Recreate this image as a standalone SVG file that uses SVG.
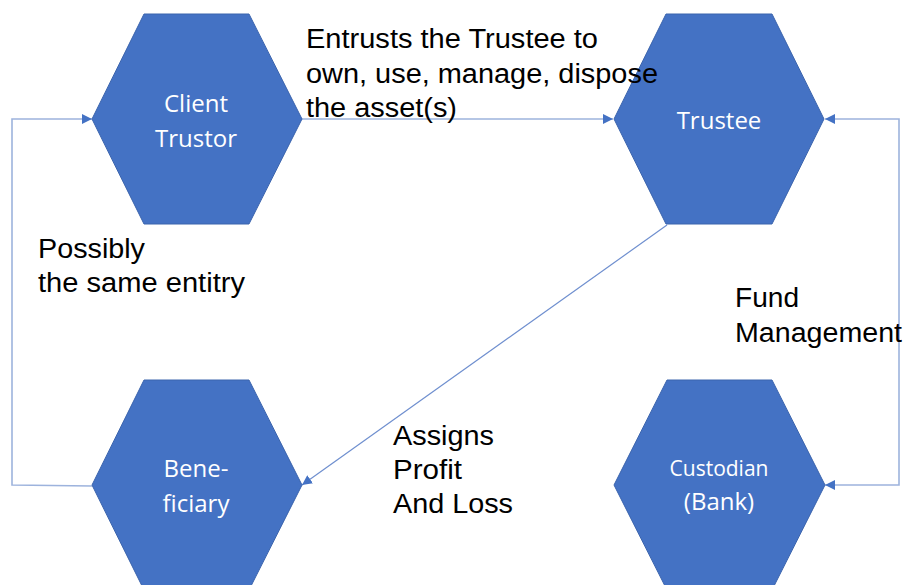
<svg xmlns="http://www.w3.org/2000/svg" width="906" height="585" viewBox="0 0 906 585">
<style>
.hex{fill:#4472C4;stroke:#3B64AD;stroke-width:1}
.nt{font-family:"Open Sans","Noto Sans",sans-serif;fill:#FFFFFF;text-anchor:middle}
.lb{font-family:"Liberation Sans",Arial,sans-serif;font-size:27px;fill:#000000}
.c1{fill:none;stroke:#9DB3DD;stroke-width:1.6}
.c2{fill:none;stroke:#6F8FCF;stroke-width:1.2}
</style>
<defs>
<marker id="ah" markerUnits="userSpaceOnUse" markerWidth="10" markerHeight="10" refX="10" refY="5" orient="auto-start-reverse" viewBox="0 0 10 10">
<path d="M0,0 L10,5 L0,10 z" fill="#4472C4"/>
</marker>
</defs>
<rect width="906" height="585" fill="#FFFFFF"/>
<g id="connectors">
<path class="c1" d="M300,119 L613,119" marker-end="url(#ah)"/>
<path class="c1" d="M92,486 L12,485 L12,119 L92,119" marker-end="url(#ah)"/>
<path class="c1" d="M825,119 L899,119 L899,485 L825,485" marker-start="url(#ah)" marker-end="url(#ah)"/>
<path class="c2" d="M667,225 L302,485" marker-end="url(#ah)"/>
</g>
<g id="client">
<polygon class="hex" points="92,119 144,14 249,14 302,119 249,224 144,224"/>
<text class="nt" x="196" y="112" font-size="24">Client</text>
<text class="nt" x="196" y="147" font-size="24">Trustor</text>
</g>
<g id="trustee">
<polygon class="hex" points="614,119 666,14 772,14 824,119 772,224 666,224"/>
<text class="nt" x="719" y="129" font-size="24">Trustee</text>
</g>
<g id="beneficiary">
<polygon class="hex" points="92,485 144,380 249,380 302,485 249,590 144,590"/>
<text class="nt" x="196" y="477" font-size="24">Bene-</text>
<text class="nt" x="196" y="512" font-size="24">ficiary</text>
</g>
<g id="custodian">
<polygon class="hex" points="614,485 667,380 772,380 825,485 772,590 667,590"/>
<text class="nt" x="719" y="476" font-size="21">Custodian</text>
<text class="nt" x="719" y="510" font-size="24">(Bank)</text>
</g>
<g id="labels">
<text class="lb" x="306" y="48" textLength="292" lengthAdjust="spacingAndGlyphs">Entrusts the Trustee to</text>
<text class="lb" x="306" y="83" textLength="352" lengthAdjust="spacingAndGlyphs">own, use, manage, dispose</text>
<text class="lb" x="306" y="117" textLength="151" lengthAdjust="spacingAndGlyphs">the asset(s)</text>
<text class="lb" x="38" y="258" textLength="107" lengthAdjust="spacingAndGlyphs">Possibly</text>
<text class="lb" x="38" y="292" textLength="207" lengthAdjust="spacingAndGlyphs">the same entitry</text>
<text class="lb" x="735" y="307" textLength="64" lengthAdjust="spacingAndGlyphs">Fund</text>
<text class="lb" x="735" y="342" textLength="167" lengthAdjust="spacingAndGlyphs">Management</text>
<text class="lb" x="393" y="445" textLength="101" lengthAdjust="spacingAndGlyphs">Assigns</text>
<text class="lb" x="393" y="479" textLength="69" lengthAdjust="spacingAndGlyphs">Profit</text>
<text class="lb" x="393" y="513" textLength="120" lengthAdjust="spacingAndGlyphs">And Loss</text>
</g>
</svg>
